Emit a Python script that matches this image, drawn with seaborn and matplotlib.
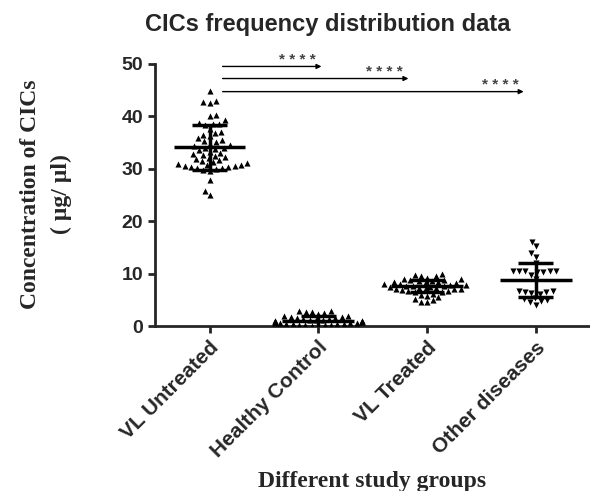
import pandas as pd
import matplotlib
matplotlib.use('Agg')
import matplotlib.pyplot as plt
import seaborn as sns

groups = ['VL Untreated', 'Healthy Control', 'VL Treated', 'Other diseases']

vl_untreated = [44.8, 42.9, 42.6, 42.8, 40.3, 40.0, 39.2, 38.8, 38.6, 38.5, 38.3, 37.5,
                37.0, 36.8, 36.5, 36.2, 35.8, 35.5, 35.3, 35.0, 34.8, 34.5, 34.3, 34.0,
                33.9, 33.8, 33.5, 33.2, 33.0, 32.8, 32.6, 32.4, 32.2, 32.0, 31.8, 31.6,
                31.4, 31.2, 31.0, 30.9, 30.8, 30.7, 30.6, 30.5, 30.4, 30.3, 30.2, 30.1,
                30.0, 29.8, 29.6, 27.9, 25.8, 24.9]
healthy_control = [2.9, 2.8, 2.7, 2.6, 2.5, 2.2, 2.0, 1.9, 1.8, 1.7, 1.6, 1.5, 1.4, 1.3,
                   1.2, 1.2, 1.1, 1.0, 1.0, 0.9, 0.9, 0.8, 0.8, 0.7, 0.7, 0.6, 0.6, 0.5,
                   0.5, 0.4, 0.4, 0.3, 0.3, 0.2, 0.2, 0.1, 0.1, 0.0, 0.0]
vl_treated = [9.9, 9.7, 9.6, 9.5, 9.2, 9.0, 8.9, 8.8, 8.7, 8.6, 8.5, 8.4, 8.3, 8.2, 8.1,
              8.0, 8.0, 7.9, 7.8, 7.7, 7.6, 7.6, 7.5, 7.4, 7.3, 7.2, 7.1, 7.0, 7.0, 6.9,
              6.8, 6.7, 6.6, 6.5, 6.4, 6.2, 6.0, 5.8, 5.5, 5.2, 4.9, 4.6, 4.5]
other_diseases = [16.1, 15.2, 14.0, 13.2, 12.0, 10.5, 10.4, 10.4, 10.3, 10.3, 10.4, 10.4,
                  9.8, 9.0, 6.7, 6.5, 6.4, 6.3, 6.6, 6.2, 5.4, 5.2, 5.0, 4.8, 4.5, 4.1]

# mean and SD
means = [34.1, 0.9, 7.6, 8.8]
sds = [4.3, 1.0, 1.1, 3.3]

# significance arrows from VL Untreated to each group
sig_targets = ['Healthy Control', 'VL Treated', 'Other diseases']
sig_heights = [49.5, 47.2, 44.7]
sig_labels = ['* * * *', '* * * *', '* * * *']

rows = []
for g, vals in zip(groups, [vl_untreated, healthy_control, vl_treated, other_diseases]):
    for v in vals:
        rows.append({'Group': g, 'CIC': v})
df = pd.DataFrame(rows)

sns.set_style('ticks')
plt.rcParams['font.family'] = ['Liberation Sans', 'DejaVu Sans']

fig = plt.figure(figsize=(5.9, 4.91), dpi=100)
ax = fig.add_axes([0.263, 0.336, 0.737, 0.534])

up = df[df['Group'] != 'Other diseases']
down = df[df['Group'] == 'Other diseases']
sns.swarmplot(data=up, x='Group', y='CIC', order=groups, marker='^', color='black',
              size=4.4, ax=ax)
sns.swarmplot(data=down, x='Group', y='CIC', order=groups, marker='v', color='black',
              size=4.4, ax=ax)

for i, (m, s) in enumerate(zip(means, sds)):
    ax.hlines(m, i - 0.33, i + 0.33, color='black', lw=2.5, zorder=5)
    ax.hlines([m - s, m + s], i - 0.16, i + 0.16, color='black', lw=2.5, zorder=5)
    ax.vlines(i, m - s, m + s, color='black', lw=2.5, zorder=5)

end_off = [0.03, -0.17, -0.11]
for tgt, h, lab, off in zip(sig_targets, sig_heights, sig_labels, end_off):
    xe = groups.index(tgt) + off
    ax.annotate('', xy=(xe, h), xytext=(0.12, h), annotation_clip=False,
                arrowprops=dict(arrowstyle='-|>', color='black', lw=1.0,
                                mutation_scale=7, shrinkA=0, shrinkB=0))
    ax.text(xe - 0.05, h - 0.1, lab, ha='right', va='bottom', fontsize=11,
            fontweight='bold', color='#444444', clip_on=False)

ax.set_xlim(-0.5, 3.5)
ax.set_ylim(0, 50)
ax.set_yticks([0, 10, 20, 30, 40, 50])
sns.despine(ax=ax)
for sp in ['left', 'bottom']:
    ax.spines[sp].set_linewidth(2)
ax.tick_params(axis='both', width=2, length=5, labelsize=14)
for t in ax.get_yticklabels():
    t.set_fontweight('bold')
ax.set_xticks(range(len(groups)))
ax.set_xticklabels(groups, rotation=45, ha='right', rotation_mode='anchor',
                   fontweight='bold', fontsize=15)
ax.set_xlabel('')
ax.set_ylabel('')

fig.text(0.63, 0.02, 'Different study groups', ha='center', va='center', fontsize=17,
         fontweight='bold', family='Liberation Serif')
fig.text(0.078, 0.605, 'Concentration of CICs\n( \u00b5g/ \u00b5l)', ha='center', va='center',
         rotation=90, fontsize=17, fontweight='bold', family='Liberation Serif',
         linespacing=1.6)
fig.text(0.555, 0.95, 'CICs frequency distribution data', ha='center', va='center',
         fontsize=17, fontweight='bold')

fig.savefig('out.png', dpi=100)
